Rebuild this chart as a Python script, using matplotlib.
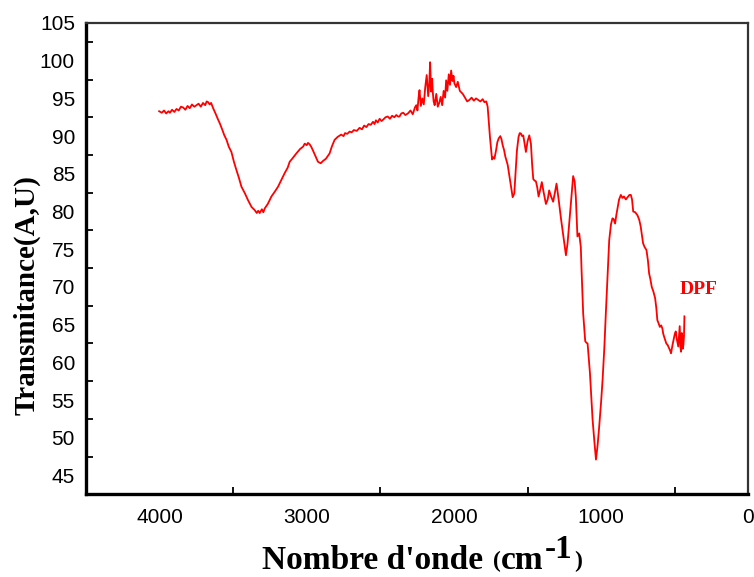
import matplotlib
matplotlib.use("Agg")
import matplotlib.pyplot as plt
from matplotlib.ticker import MultipleLocator, FixedLocator

# FTIR spectrum of DPF: wavenumber (cm-1) and transmittance values
wavenumber = [
    4003, 3985, 3970, 3955, 3940, 3930, 3915, 3900, 3885, 3870, 3855, 3840,
    3825, 3810, 3795, 3780, 3765, 3749, 3735, 3720, 3705, 3690, 3680, 3670,
    3660, 3650, 3636, 3620, 3605, 3591, 3575, 3560, 3545, 3530, 3512, 3495,
    3478, 3460, 3444, 3420, 3399, 3375, 3354, 3340, 3330, 3320, 3305, 3295,
    3286, 3265, 3240, 3215, 3195, 3170, 3150, 3130, 3116, 3095, 3071, 3045,
    3025, 3014, 3000, 2992, 2980, 2970, 2958, 2940, 2924, 2905, 2890, 2870,
    2845, 2830, 2811, 2790, 2766, 2750, 2740, 2725, 2709, 2695, 2680, 2660,
    2641, 2625, 2610, 2595, 2580, 2565, 2550, 2540, 2530, 2518, 2505, 2492,
    2480, 2465, 2450, 2435, 2420, 2405, 2392, 2380, 2370, 2358, 2345, 2330,
    2313, 2295, 2280, 2265,
    2256, 2248, 2240, 2234, 2225, 2215, 2205, 2195, 2185, 2175, 2168, 2162,
    2155, 2148, 2144, 2138, 2131, 2120, 2110, 2100, 2090, 2080, 2070, 2060,
    2053, 2045, 2035, 2027, 2019, 2010, 2003, 1997, 1985, 1974, 1960, 1950,
    1940, 1925, 1910, 1895, 1880, 1865, 1850, 1835, 1820, 1805, 1793, 1780,
    1771, 1764, 1755, 1748, 1741, 1733, 1725, 1714, 1705, 1696, 1685, 1677,
    1669, 1660, 1651, 1635, 1619, 1610, 1601, 1590, 1580, 1572, 1561, 1553,
    1545, 1537, 1529, 1520, 1511, 1500, 1488, 1477, 1468, 1461, 1452, 1443,
    1434, 1425, 1415, 1403, 1390, 1375, 1363, 1353, 1340, 1326, 1315, 1303,
    1288, 1273, 1255, 1239, 1228, 1217, 1203, 1190, 1180, 1172, 1166, 1161,
    1155, 1149, 1138, 1133, 1122, 1108, 1100, 1092, 1076, 1058, 1045, 1035,
    1024, 1013, 1000, 990, 978, 968, 955, 945, 933, 923, 915, 905,
    897, 889, 878, 866, 855, 845, 832, 820, 808, 798, 790, 782,
    768, 753, 741, 731, 722, 715, 705, 692, 682, 674, 665, 656,
    645, 633, 625, 618, 610, 601, 592, 584, 578, 572, 565, 557,
    548, 539, 532, 525, 515, 505, 499, 493, 485, 476, 471, 466,
    461, 457, 452, 448, 445, 441, 437, 434,
]

transmittance = [
    93.3, 93.1, 93.4, 93.0, 93.3, 93.1, 93.5, 93.2, 93.6, 93.4, 93.9, 93.8,
    93.5, 94.0, 93.7, 94.2, 93.9, 94.1, 94.3, 93.9, 94.4, 94.1, 94.6, 94.5,
    94.2, 94.4, 93.7, 93.0, 92.3, 91.7, 90.9, 90.1, 89.5, 88.6, 87.9, 86.6,
    85.5, 84.4, 83.3, 82.4, 81.5, 80.6, 80.2, 79.8, 80.1, 79.8, 80.3, 79.9,
    80.4, 81.0, 82.0, 82.7, 83.3, 84.3, 85.1, 85.8, 86.6, 87.1, 87.7, 88.3,
    88.6, 89.0, 88.8, 89.1, 88.9, 88.6, 88.1, 87.3, 86.6, 86.4, 86.7, 87.0,
    87.7, 88.6, 89.5, 89.9, 90.2, 90.0, 90.4, 90.3, 90.6, 90.5, 90.8, 90.7,
    91.1, 90.9, 91.4, 91.2, 91.6, 91.5, 91.9, 91.6, 92.1, 91.8, 92.3, 92.0,
    92.2, 92.5, 92.6, 92.3, 92.7, 92.5, 92.8, 92.6, 92.6, 93.0, 93.1, 92.8,
    93.0, 93.4, 92.9, 93.8,
    94.1, 93.4, 95.2, 96.1, 94.0, 95.0, 94.2, 96.5, 98.1, 95.3, 96.8, 99.8,
    95.9, 97.6, 95.9, 94.6, 94.1, 95.6, 93.9, 94.4, 95.2, 94.1, 96.0, 95.1,
    97.4, 96.0, 98.2, 96.8, 98.7, 97.3, 98.0, 97.0, 96.5, 97.2, 96.0, 95.8,
    95.6, 95.1, 94.6, 94.8, 95.1, 94.7, 95.0, 94.8, 94.6, 94.9, 94.5, 94.6,
    93.9, 92.1, 89.8, 88.4, 86.9, 87.2, 87.0, 88.1, 89.2, 89.7, 90.0, 89.6,
    88.8, 88.2, 87.3, 86.2, 84.2, 83.0, 81.9, 82.4, 85.5, 88.1, 89.9, 90.4,
    90.35, 90.0, 90.1, 89.0, 87.9, 89.3, 90.1, 89.0, 86.0, 84.3, 84.1, 84.0,
    83.2, 82.0, 82.8, 83.9, 82.5, 81.0, 81.6, 82.8, 82.0, 81.3, 82.4, 83.7,
    81.5, 79.1, 76.5, 74.2, 75.8, 78.4, 81.8, 84.7, 84.0, 82.0, 79.0, 76.7,
    76.9, 77.1, 75.3, 72.3, 66.5, 62.8, 62.6, 62.5, 58.6, 52.4, 49.3, 47.1,
    49.0, 51.5, 54.8, 57.7, 62.0, 66.5, 72.0, 76.2, 78.3, 79.1, 79.0, 78.4,
    79.5, 80.4, 81.6, 82.2, 81.8, 82.0, 81.6, 81.9, 82.2, 82.2, 81.6, 80.0,
    79.9, 79.5, 78.9, 78.0, 76.8, 75.8, 75.3, 74.9, 73.5, 71.8, 71.0, 70.0,
    69.4, 68.5, 67.2, 65.6, 65.2, 64.7, 64.9, 64.5, 63.8, 63.4, 63.0, 62.5,
    62.3, 61.9, 61.6, 61.2, 62.3, 63.2, 63.8, 64.1, 63.0, 62.1, 63.5, 64.8,
    62.0, 61.4, 63.9, 63.4, 61.8, 62.3, 63.5, 66.1,
]

x_major = [4000, 3000, 2000, 1000, 0]
x_minor = [4500, 3500, 2500, 1500, 500]
y_major = [45, 50, 55, 60, 65, 70, 75, 80, 85, 90, 95, 100, 105]

W, H = 754, 577
fig = plt.figure(figsize=(W / 100, H / 100), dpi=100)
ax = fig.add_axes([86 / W, 82.7 / H, 662.3 / W, 471.3 / H])

ax.plot(wavenumber, transmittance, color="#ff0000", linewidth=1.3)

ax.set_xlim(4500, 0)
ax.set_ylim(42.5, 105)

ax.xaxis.set_major_locator(FixedLocator(x_major))
ax.xaxis.set_minor_locator(FixedLocator(x_minor))
ax.yaxis.set_major_locator(FixedLocator(y_major))
ax.yaxis.set_minor_locator(MultipleLocator(5, offset=2.5))

tick_font = {"family": "Liberation Sans", "size": 15}
ax.set_xticklabels([str(v) for v in x_major], fontdict=tick_font)
ax.set_yticklabels([str(v) for v in y_major], fontdict=tick_font)

ax.tick_params(which="major", length=0)
ax.tick_params(axis="x", which="major", pad=10)
ax.tick_params(axis="y", which="major", pad=8)
ax.tick_params(which="minor", direction="in", length=5, width=1.3, color="black")

for side in ("left", "bottom"):
    ax.spines[side].set_linewidth(2.4)
    ax.spines[side].set_color("black")
for side in ("top", "right"):
    ax.spines[side].set_linewidth(1.6)
    ax.spines[side].set_color("#333333")

# y-axis title
ax.set_ylabel("Transmitance(A,U)", family="Liberation Serif",
              fontweight="bold", fontsize=21)
ax.yaxis.set_label_coords(-0.068, 0.423)

# x-axis title, built piecewise so the parentheses are smaller and the
# exponent keeps full size
serif_bold = {"family": "Liberation Serif", "fontweight": "bold"}
t1 = fig.text(262 / W, 8 / H, "Nombre d'onde ", fontsize=24,
              ha="left", va="baseline", **serif_bold)
t2 = ax.annotate("(", xy=(1, 0), xycoords=t1, xytext=(1, 3),
                 textcoords="offset points", fontsize=17,
                 ha="left", va="bottom", **serif_bold)
t3 = ax.annotate("cm", xy=(1, 0), xycoords=t2, xytext=(0, -3),
                 textcoords="offset points", fontsize=24,
                 ha="left", va="bottom", **serif_bold)
t4 = ax.annotate("-1", xy=(1, 0), xycoords=t3, xytext=(1, 8),
                 textcoords="offset points", fontsize=24,
                 ha="left", va="bottom", **serif_bold)
t5 = ax.annotate(")", xy=(1, 0), xycoords=t4, xytext=(1, -5),
                 textcoords="offset points", fontsize=17,
                 ha="left", va="bottom", **serif_bold)

ax.text(341, 69.1, "DPF", color="#ff0000", fontsize=14, fontweight="bold",
        family="Liberation Serif", ha="center", va="baseline")

fig.savefig("out.png", dpi=100)
